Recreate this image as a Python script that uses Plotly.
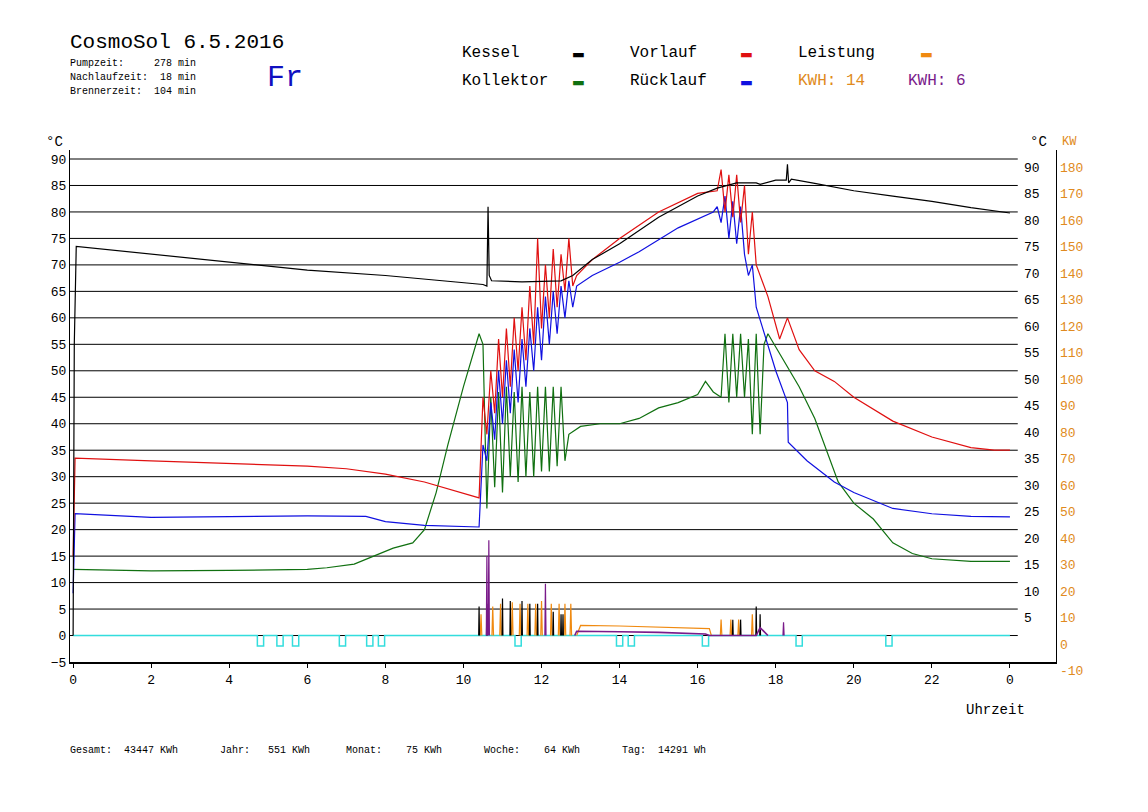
import plotly.graph_objects as go

FONT = "Liberation Mono"

# Kessel (black)
kessel_t = [0, 0.03, 0.08, 2, 4, 6, 8, 10.5, 10.6, 10.63, 10.66, 10.72, 11.5, 12.5, 12.8, 13.3, 14, 15, 16, 16.5,
            17.0, 17.5, 17.6, 18.0, 18.27, 18.3, 18.33, 18.4, 19, 20, 21, 22, 23, 24]
kessel_v = [0, 55, 73.5, 72, 70.5, 69, 68, 66.3, 66, 81, 68, 67, 66.8, 67, 68, 71, 74, 79, 83, 84.5,
            85.5, 85.5, 85.2, 86, 86, 89, 85.5, 86.2, 85.4, 84, 83, 82, 80.8, 79.8]

# Vorlauf (red)
vor_t = [0, 0.05, 2, 4, 6, 7, 8, 9, 10.4] + [10.5 + i * 0.1 for i in range(25)] + \
        [13.3, 14, 15, 16, 16.4] + [16.5 + i * 0.1 for i in range(11)] + \
        [17.8, 18.1, 18.3, 18.6, 19, 19.5, 20, 21, 22, 23, 23.6, 24]
vor_v = [15, 33.5, 33, 32.5, 32, 31.5, 30.5, 29, 26] + \
        [45, 38, 50, 42, 56, 45, 58, 47, 60, 50, 62, 52, 66, 55, 75, 58, 70, 60, 73, 62, 72, 65, 75, 66, 68] + \
        [71, 75, 80, 83.5, 84] + [84, 88, 80, 87, 79, 87, 78, 85, 72, 80, 70] + \
        [64, 56, 60, 54, 50, 48, 45, 40.5, 37.5, 35.5, 35, 35]

# Ruecklauf (blue)
rue_t = [0, 0.05, 2, 4, 6, 7.5, 8, 9, 10.4] + [10.5 + i * 0.1 for i in range(25)] + \
        [13.3, 14, 14.5, 15.5, 16.4] + [16.5 + i * 0.1 for i in range(11)] + \
        [17.8, 18.0, 18.3, 18.32, 18.8, 19.5, 20, 20.5, 21, 22, 23, 24]
rue_v = [8, 23, 22.3, 22.5, 22.6, 22.5, 21.5, 20.8, 20.5] + \
        [36, 33, 44, 37, 50, 40, 52, 42, 54, 44, 56, 47, 58, 50, 62, 52, 64, 55, 65, 57, 66, 60, 67, 62, 66] + \
        [68, 70.5, 72.5, 77, 80] + [81, 78, 83, 75, 82, 74, 81, 72, 68, 70, 62] + \
        [55, 50, 44, 36.5, 33, 29, 27, 25.5, 24, 23, 22.5, 22.4]

# Kollektor (green)
kol_t = [0, 2, 4, 6, 6.5, 7.2, 7.7, 8.2, 8.7, 9.0, 9.3, 9.6, 10.0, 10.4, 10.5] + \
        [10.6 + i * 0.1 for i in range(22)] + \
        [13, 13.5, 14, 14.5, 15, 15.5, 16, 16.2, 16.4] + [16.6 + i * 0.1 for i in range(13)] + \
        [18.2, 18.6, 19, 19.3, 19.6, 20, 20.5, 21, 21.5, 22, 23, 24]
kol_v = [12.5, 12.2, 12.3, 12.5, 12.8, 13.5, 15, 16.5, 17.5, 20, 27, 36, 47, 57, 55] + \
        [24, 45, 28, 46, 27, 47, 30, 46, 29, 47, 30, 46, 30, 47, 31, 47, 31, 47, 32, 47, 33, 38] + \
        [39.5, 40, 40, 41, 43, 44, 45.5, 48, 46] + [45, 57, 44, 57, 45, 57, 45, 56, 38, 57, 38, 55, 57] + \
        [52, 47, 41, 35, 29, 25, 22, 17.5, 15.5, 14.5, 14, 14]

# Leistung (orange) spikes + plateau
or_spk_t = [10.45, 10.75, 10.95, 11.25, 11.45, 11.65, 11.85, 12.0, 12.25, 12.45, 12.6, 12.75, 16.6, 16.85, 17.05, 17.4]
or_spk_h = [4, 5.5, 6, 6.3, 6, 6, 6, 6.5, 6, 6, 6, 6, 3, 3, 3, 4]
or_plat_t = [12.9, 13.0, 14, 15, 16.3, 16.35]
or_plat_v = [0, 1.9, 1.8, 1.6, 1.3, 0]

# purple spikes + plateau
pu_spk_t = [10.6, 10.65, 12.1, 18.2]
pu_spk_h = [15, 18, 9.8, 2.5]
pu_plat_t = [12.85, 12.9, 14, 15, 16.2, 16.3, 17.5, 17.6, 17.8]
pu_plat_v = [0, 0.8, 0.7, 0.6, 0.3, 0, 0, 1.5, 0]

# black small spikes
bk_spk_t = [10.4, 10.6, 11.0, 11.2, 11.5, 11.7, 11.9, 12.3, 12.5, 12.55, 16.9, 17.1, 17.5, 17.6]
bk_spk_h = [5.5, 6, 7, 6.5, 6.5, 6, 6, 4.5, 4, 4, 3, 3, 5.5, 4]

# cyan pump dips
cy_dip_t = [4.8, 5.3, 5.7, 6.9, 7.6, 7.9, 11.4, 14.0, 14.3, 16.2, 18.6, 20.9]

left_ticks = list(range(-5, 95, 5))
right_ticks_black = list(range(5, 95, 5))
right_ticks_orange = list(range(-10, 190, 10))
x_tickvals = [0, 2, 4, 6, 8, 10, 12, 14, 16, 18, 20, 22, 24]
x_ticktext = ["0", "2", "4", "6", "8", "10", "12", "14", "16", "18", "20", "22", "0"]


def spikes(ts, hs, w=0.02):
    xs, ys = [], []
    for t, h in zip(ts, hs):
        xs += [t - w, t, t + w, None]
        ys += [0, h, 0, None]
    return xs, ys


def dips(ts, w=0.08, d=-2):
    xs, ys = [0], [0]
    for t in ts:
        xs += [t - w, t - w, t + w, t + w]
        ys += [0, d, d, 0]
    xs.append(24)
    ys.append(0)
    return xs, ys


fig = go.Figure()


def line(x, y, color, w=1.2):
    fig.add_trace(go.Scatter(x=x, y=y, mode="lines", line=dict(color=color, width=w),
                             hoverinfo="skip", showlegend=False))


cx, cy = dips(cy_dip_t)
line(cx, cy, "#33dddd", 1.5)
line(*spikes(or_spk_t, or_spk_h), "#f08a10")
line(or_plat_t, or_plat_v, "#f08a10")
line(*spikes(bk_spk_t, bk_spk_h, 0.01), "black")
line(pu_plat_t, pu_plat_v, "#7a1a8a", 1.6)
line(*spikes(pu_spk_t, pu_spk_h, 0.015), "#7a1a8a")
line(kol_t, kol_v, "#107010")
line(rue_t, rue_v, "#1010e0")
line(vor_t, vor_v, "#e01010")
line(kessel_t, kessel_v, "black")

for v in range(0, 95, 5):
    fig.add_shape(type="line", x0=-0.08, x1=24.2, y0=v, y1=v, line=dict(color="black", width=1), layer="below")

ann = []
for v in right_ticks_black:
    ann.append(dict(x=24.2, xref="x", y=v, yref="y", text=str(v), xanchor="left", yanchor="top",
                    showarrow=False, font=dict(family=FONT, size=13, color="black"), xshift=4))
for v in right_ticks_orange:
    ann.append(dict(x=1.0, xref="paper", y=v / 2, yref="y", text=str(v), xanchor="left", yanchor="top",
                    showarrow=False, font=dict(family=FONT, size=13, color="#e08a20"), xshift=2))

# the page adds an 8px body margin, so work in screen pixels minus that offset
OFF = 8
L, R, T, B = 70 - OFF, 1056 - OFF, 150 - OFF, 662 - OFF


def ptxt(px, py, s, size=13, color="black", anchor="left"):
    px, py = px - OFF, py - OFF
    ann.append(dict(x=(px - L) / (R - L), y=(B - py) / (B - T), xref="paper", yref="paper", text=s,
                    showarrow=False, xanchor=anchor, yanchor="middle",
                    font=dict(family=FONT, size=size, color=color)))


ptxt(68, 42, "CosmoSol 6.5.2016", 21)
ptxt(68, 63, "Pumpzeit:     278 min", 10)
ptxt(68, 77, "Nachlaufzeit:  18 min", 10)
ptxt(68, 91, "Brennerzeit:  104 min", 10)
ptxt(265, 78, "Fr", 30, "#1010c0")
ptxt(460, 53, "Kessel", 16)
ptxt(460, 81, "Kollektor", 16)
ptxt(628, 53, "Vorlauf", 16)
ptxt(628, 81, "Rücklauf", 16)
ptxt(796, 53, "Leistung", 16)
ptxt(796, 81, "KWH: 14", 16, "#e08a20")
ptxt(906, 81, "KWH: 6", 16, "#7a1a8a")
for px, py, col in [(571, 53, "black"), (739, 53, "#e01010"), (919, 53, "#f08a10"),
                    (571, 81, "#107010"), (739, 81, "#1010e0")]:
    ptxt(px, py, "<b>▬</b>", 18, col)
ptxt(44, 142, "°C", 14)
ptxt(1028, 142, "°C", 14)
ptxt(1060, 142, "KW", 12, "#e08a20")
ptxt(964, 710, "Uhrzeit", 14)
ptxt(68, 750, "Gesamt:  43447 KWh       Jahr:   551 KWh      Monat:    75 KWh       Woche:    64 KWh       Tag:  14291 Wh", 10)

fig.update_layout(
    width=1148, height=812,
    margin=dict(l=L, r=1148 - R, t=T, b=812 - B, autoexpand=False),
    paper_bgcolor="white", plot_bgcolor="white",
    font=dict(family=FONT, size=13, color="black"),
    annotations=ann,
    xaxis=dict(range=[-0.08, 25.18], tickvals=x_tickvals, ticktext=x_ticktext, showgrid=False, zeroline=False,
               showline=True, linecolor="black", linewidth=2, ticks="outside", ticklen=4, tickcolor="black",
               tickfont=dict(family=FONT, size=13), automargin=False),
    yaxis=dict(range=[-5, 91.7], tickvals=left_ticks, showgrid=False, zeroline=False, showline=True,
               linecolor="black", linewidth=1, mirror=True, ticks="", tickfont=dict(family=FONT, size=13),
               automargin=False),
)

fig.write_html("out.html")
